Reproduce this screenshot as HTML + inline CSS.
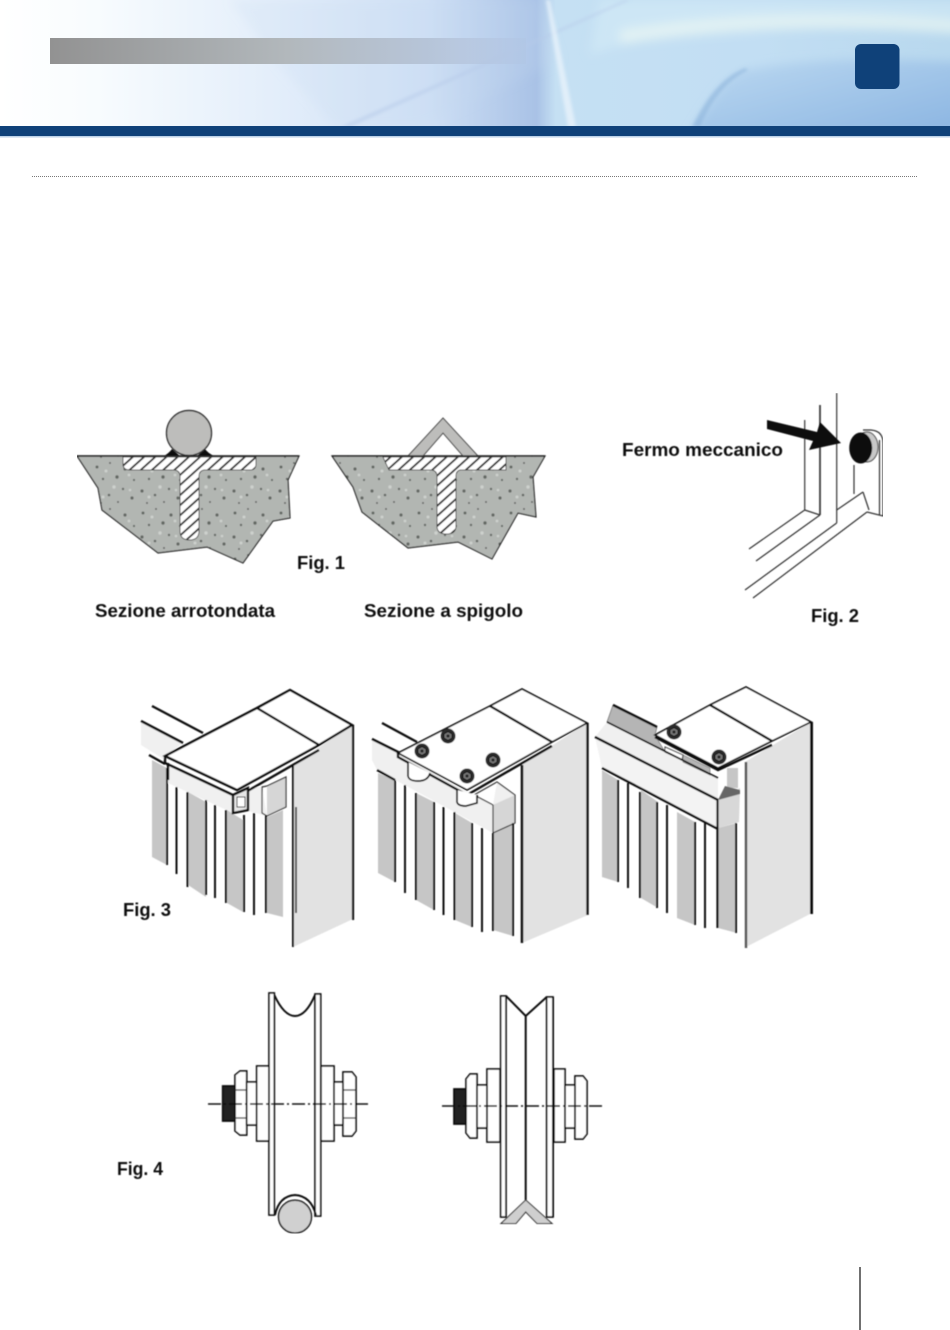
<!DOCTYPE html>
<html lang="it">
<head>
<meta charset="utf-8">
<title>Fig. 1-4</title>
<style>
html,body{margin:0;padding:0;background:#fff;width:950px;height:1330px;overflow:hidden}
svg{display:block}
text{font-family:"Liberation Sans",sans-serif;font-weight:bold;fill:#111;font-size:18px}
.k{fill:none;stroke:#111;stroke-width:2}
.t{fill:none;stroke:#111;stroke-width:2.400}
.s{fill:#c6c6c6;stroke:none}
.b{fill:#f0f0f0;stroke:none}
.w{fill:#fff;stroke:#111;stroke-width:1.700}
.thin{fill:none;stroke:#333;stroke-width:1.200}
</style>
</head>
<body>
<svg width="950" height="1330" viewBox="0 0 950 1330" xmlns="http://www.w3.org/2000/svg">
<defs>
<linearGradient id="h1" x1="0" x2="1" y1="0" y2="0">
<stop offset="0" stop-color="#ffffff"/><stop offset=".1" stop-color="#f8fcfe"/>
<stop offset=".3" stop-color="#e2edfa"/><stop offset=".45" stop-color="#cfe0f5"/>
<stop offset=".565" stop-color="#a9c2e6"/><stop offset=".585" stop-color="#c5e0f3"/>
<stop offset=".8" stop-color="#c2def3"/><stop offset="1" stop-color="#b8d8ee"/>
</linearGradient>
<linearGradient id="h2" x1="0" x2="1" y1="0" y2="1">
<stop offset="0" stop-color="#bcd9f1"/><stop offset="1" stop-color="#8ab4e1"/>
</linearGradient>
<linearGradient id="g1" x1="0" x2="1" y1="0" y2="0">
<stop offset="0" stop-color="#929292"/><stop offset=".5" stop-color="#b2b8bc"/>
<stop offset=".8" stop-color="#b4c2d6" stop-opacity=".9"/><stop offset="1" stop-color="#aebfdc" stop-opacity=".2"/>
</linearGradient>
<pattern id="hatch" width="7.500" height="7.500" patternUnits="userSpaceOnUse" patternTransform="rotate(-42)">
<rect width="7.500" height="7.500" fill="#fff"/><rect width="7.500" height="1.800" fill="#222"/>
</pattern>
<pattern id="conc" width="46" height="46" patternUnits="userSpaceOnUse">
<rect width="46" height="46" fill="#b2b6b2"/>
<g fill="#636864">
<circle cx="5" cy="7" r="1.500"/><circle cx="18" cy="3" r="1"/><circle cx="33" cy="9" r="1.600"/>
<circle cx="42" cy="20" r="1.100"/><circle cx="11" cy="19" r="1.200"/><circle cx="25" cy="17" r="1.700"/>
<circle cx="4" cy="31" r="1.600"/><circle cx="17" cy="35" r="1.300"/><circle cx="31" cy="29" r="1.200"/>
<circle cx="40" cy="38" r="1.600"/><circle cx="26" cy="42" r="1"/><circle cx="9" cy="43" r="1"/>
</g>
<g fill="#cdd1cd"><circle cx="14" cy="11" r="1.500"/><circle cx="37" cy="15" r="1.400"/><circle cx="22" cy="27" r="1.700"/><circle cx="38" cy="30" r="1.300"/><circle cx="11" cy="37" r="1.500"/></g>
</pattern>
<symbol id="bolt" viewBox="-8 -8 16 16" width="16" height="16" overflow="visible">
<circle r="7.500" fill="#2a2a2a"/><path d="M-4-2 0-4.400 4-2V2L0 4.400-4 2Z" fill="#777" stroke="#111" stroke-width="1"/><circle r="1.600" fill="#222"/>
</symbol>
<filter id="soft" x="0" y="0" width="100%" height="100%"><feGaussianBlur stdDeviation=".45"/></filter>
<filter id="hb" x="-5%" y="-20%" width="110%" height="140%"><feGaussianBlur stdDeviation="5"/></filter>
<filter id="hb2" x="-20%" y="-20%" width="140%" height="140%"><feGaussianBlur stdDeviation="1.500"/></filter>
<clipPath id="hc"><rect width="950" height="127"/></clipPath>
</defs>

<!-- header -->
<g clip-path="url(#hc)">
<rect width="950" height="127" fill="url(#h1)"/>
<g filter="url(#hb)">
<path d="M690 135C715 95 725 78 745 70C810 58 880 58 960 62V135Z" fill="url(#h2)"/>
<path d="M600 0H960V22C820 12 680 22 590 55Z" fill="#d3ebf6" opacity=".6"/>
<path d="M620 30C720 12 850 10 960 20V34C830 24 720 30 620 44Z" fill="#eaf6f4" opacity=".7"/>
<path d="M275 60 335 127H420L560 60 540 0H230Z" fill="#c5d8f2" opacity=".2"/>
</g>
<g filter="url(#hb2)">
<path d="M340 127 625 0H630L350 127Z" fill="#b7cbe9" opacity=".55"/>
<path d="M546 0H550L576 127H568Z" fill="#e8f3fb" opacity=".8"/>
<path d="M692 127C708 95 722 78 745 68L748 70C728 80 712 98 700 127Z" fill="#7fa8d4" opacity=".45"/>
</g>
</g>
<rect x="50" y="38" width="476" height="26" fill="url(#g1)"/>
<rect x="855" y="44" width="44.500" height="45" rx="6" fill="#0f4179"/>
<rect y="126" width="950" height="10" fill="#0f4179"/>
<rect y="136" width="950" height="1.500" fill="#bcd2e8"/>
<line x1="32" x2="918" y1="176.500" y2="176.500" stroke="#777" stroke-width="1" stroke-dasharray="1 1"/>
<line x1="860" x2="860" y1="1267" y2="1330" stroke="#222" stroke-width="1.300"/>

<g filter="url(#soft)">
<!-- Fig 1 left -->
<path d="M77 456H299L288 480 290 518 273 521 243 563 207 547 158 553 102 510 98 488Z" fill="url(#conc)" stroke="#222" stroke-width="1.200"/>
<path d="M164 456Q169 453 172 449L180 456Z" fill="#111"/>
<path d="M214 456Q208 453 205 449L197 456Z" fill="#111"/>
<circle cx="189" cy="433" r="22.500" fill="#bdbdbb" stroke="#333" stroke-width="1.400"/>
<line x1="77" x2="299" y1="456" y2="456" stroke="#222" stroke-width="1.500"/>
<path d="M123 457H256V464Q256 470 250 470H204Q199 471 199 476V531Q199 540 189.500 540Q180 540 180 531V476Q180 471 175 470H130Q123 470 123 464Z" fill="url(#hatch)" stroke="#333" stroke-width=".8"/>
<!-- Fig 1 right -->
<path d="M332 456H545L533 477 536 517 518 513 492 559 458 542 408 548 362 512 353 487Z" fill="url(#conc)" stroke="#222" stroke-width="1.200"/>
<path d="M408 456 443 418 478 456H463L443 433 423 456Z" fill="#bdbdbb" stroke="#444" stroke-width="1"/>
<line x1="332" x2="545" y1="456" y2="456" stroke="#222" stroke-width="1.500"/>
<path d="M383 457H506V470H460Q456 471 456 476V526Q456 534 446.500 534Q437 534 437 526V476Q437 471 432 470H389Z" fill="url(#hatch)" stroke="#333" stroke-width=".8"/>

<!-- Fig 2 -->
<g class="thin">
<line x1="836.700" y1="393" x2="836.700" y2="523"/>
<line x1="820" y1="405" x2="820" y2="515" stroke-width="1.700"/>
<line x1="804.700" y1="420" x2="804.700" y2="510"/>
<line x1="804.700" y1="510" x2="749" y2="549"/>
<line x1="804.700" y1="510" x2="820" y2="515"/>
<line x1="820" y1="515" x2="756" y2="561"/>
<line x1="836.700" y1="523" x2="745" y2="590"/>
<line x1="867" y1="512" x2="753" y2="598"/>
<line x1="836.700" y1="510" x2="863" y2="492"/>
<line x1="863" y1="492" x2="869" y2="510"/>
<line x1="854" y1="465" x2="854" y2="494"/>
<path d="M867 512 883 516V443Q883 431 871 430H863"/>
<line x1="879.500" y1="440" x2="879.500" y2="515"/>
</g>
<ellipse cx="867" cy="447" rx="11" ry="15" fill="#c8c8c8" stroke="#444"/>
<ellipse cx="860.700" cy="448" rx="11.500" ry="15.500" fill="#111"/>
<path d="M767 420 767 429 813 441 809 450 841 443 820 422 817 432Z" fill="#111"/>

<!-- Fig 3 panel A -->
<path d="M293 765 352 725 353 919 293 947Z" fill="#e2e2e2"/>
<path class="s" d="M152 760 167 768V865L152 857Z"/>
<path class="s" d="M188 792 206 802V897L188 885Z"/>
<path class="s" d="M227 810 243 820V912L227 903Z"/>
<path class="s" d="M267 817 283 810V917L267 913Z"/>
<path class="b" d="M141 721 183 743 165 756V760L141 745Z"/>
<path class="b" d="M168 763 233 795V813L168 783Z"/>
<path class="b" d="M248 788 262 787 267 816 248 811Z"/>
<path fill="#d6d6d6" d="M267 787 286 777V807L267 816Z"/>
<path class="thin" d="M262 787 267 786 286 777V807L267 816 262 813Z"/>
<g class="t">
<line x1="152" y1="706" x2="203" y2="733"/>
<line x1="141" y1="721" x2="183" y2="743"/>
<line x1="149" y1="755" x2="165" y2="764"/>
<path d="M165 756 257 708 290 690 352 725 319 745 237 790Z" fill="#fff"/>
<line x1="257" y1="708" x2="319" y2="745"/>
<path d="M165 756V763L237 797 319 750"/>
<line x1="168" y1="763" x2="168" y2="780"/>
<path d="M233 795 248 788V810L233 813Z" fill="#e8e8e8"/>
</g>
<rect x="237" y="797" width="8" height="10" fill="#fff" stroke="#222"/>
<g class="k">
<line x1="167" y1="768" x2="167" y2="865"/><line x1="176.500" y1="787" x2="176.500" y2="874"/>
<line x1="187.500" y1="792" x2="187.500" y2="887"/><line x1="206" y1="800" x2="206" y2="895"/>
<line x1="215" y1="805" x2="215" y2="898"/><line x1="226" y1="810" x2="226" y2="903"/>
<line x1="244" y1="815" x2="244" y2="912"/><line x1="254" y1="813" x2="254" y2="915"/>
<line x1="266" y1="815" x2="266" y2="913"/>
<line x1="293" y1="765" x2="293" y2="947"/>
<line x1="353" y1="725" x2="353" y2="920" stroke-width="2.200"/>
<line x1="296" y1="807" x2="296" y2="913" stroke="#555" stroke-width="2"/>
</g>

<!-- Fig 3 panel B -->
<path d="M522 765 587 723 588 915 522 943Z" fill="#e2e2e2"/>
<path class="s" d="M378 773 395 780V882L378 873Z"/>
<path class="s" d="M416 793 434 802V910L416 900Z"/>
<path class="s" d="M455 813 472 823V927L455 920Z"/>
<path class="s" d="M493 830 513 823V936L493 930Z"/>
<path class="b" d="M372 739 398 753 467 792 493 805V833L377 770 372 760Z"/>
<path class="b" d="M493 805 497 782 515 795V800Z"/>
<path fill="#d6d6d6" d="M493 805 515 795V823L493 833Z"/>
<path class="thin" d="M493 805 474 795 497 782 515 795V823L493 833Z"/>
<line x1="493" y1="805" x2="493" y2="833" stroke="#222"/>
<path class="w" stroke-width="2" d="M398 753 490 706 522 689 587 723 552 742 467 790Z"/>
<g class="t">
<line x1="382" y1="723" x2="417" y2="742"/>
<line x1="372" y1="739" x2="400" y2="753"/>
<line x1="490" y1="706" x2="552" y2="742"/>
<path d="M398 753V757L467 795 552 746"/>
<line x1="377" y1="770" x2="395" y2="780"/>
</g>
<path class="w" d="M408 762V776Q409 781 418 781Q428 781 430 773"/>
<path class="w" d="M457 790V802Q458 806 466 806L477 803V795"/>
<use href="#bolt" x="414" y="743"/><use href="#bolt" x="440" y="728"/><use href="#bolt" x="459" y="768"/><use href="#bolt" x="485" y="752"/>
<g class="k">
<line x1="395" y1="780" x2="395" y2="882"/><line x1="405" y1="785" x2="405" y2="893"/>
<line x1="416" y1="793" x2="416" y2="900"/><line x1="434" y1="802" x2="434" y2="910"/>
<line x1="443.500" y1="807" x2="443.500" y2="915"/><line x1="454.500" y1="812" x2="454.500" y2="920"/>
<line x1="472" y1="823" x2="472" y2="927"/><line x1="482" y1="828" x2="482" y2="932"/>
<line x1="493" y1="833" x2="493" y2="931"/><line x1="513" y1="823" x2="513" y2="936"/>
<line x1="522" y1="765" x2="522" y2="943" stroke-width="2.600"/><line x1="587.500" y1="723" x2="587.500" y2="915" stroke-width="2.400"/>
</g>

<!-- Fig 3 panel C -->
<path d="M745 762 811 722 812 913 746 947Z" fill="#e2e2e2"/>
<path class="s" d="M602 770 618 780V882L602 877Z"/>
<path class="s" d="M641 790 658 802V908L641 898Z"/>
<path class="s" d="M677 812 695 822V925L677 918Z"/>
<path class="s" d="M718 828 737 823V933L718 928Z"/>
<path fill="#c6c6c6" d="M727 768 738 768V788H727Z"/>
<path fill="#b5b5b5" stroke="#555" stroke-width=".6" d="M613 705 657 727 655 735 665 752 607 722Z"/>
<path class="b" d="M607 722 665 752 718 778V802L595 737Z"/>
<path fill="#f3f3f3" d="M595 737 718 800V828L602 768Z"/>
<path fill="#d8d8d8" d="M718 800 740 788 739 822 718 828Z"/>
<path fill="#666" d="M718 800 725 786 740 790V794Z"/>
<path fill="#b5b5b5" stroke="#666" stroke-width=".6" d="M683 755 710 768V775L683 762Z"/>
<path fill="#fff" stroke="#333" d="M665 747 683 755 682 760 665 752Z"/>
<path class="w" stroke-width="2" d="M655 735 710 705 746 687 811 722 772 741 718 768Z"/>
<g class="t">
<line x1="710" y1="705" x2="772" y2="741"/>
<line x1="607" y1="722" x2="718" y2="778" stroke-width="1.800"/>
<line x1="595" y1="737" x2="718" y2="800"/>
<line x1="602" y1="768" x2="718" y2="829"/>
<path d="M655 737 718 770 772 745"/>
<line x1="613" y1="705" x2="657" y2="727"/>
</g>
<use href="#bolt" x="666" y="724"/><use href="#bolt" x="711" y="749"/>
<g class="k">
<line x1="618" y1="780" x2="618" y2="882"/><line x1="628" y1="783" x2="628" y2="888"/>
<line x1="640" y1="792" x2="640" y2="898"/><line x1="657" y1="802" x2="657" y2="908"/>
<line x1="667" y1="805" x2="667" y2="913"/><line x1="695" y1="822" x2="695" y2="925"/>
<line x1="705" y1="823" x2="705" y2="928"/><line x1="717.500" y1="800" x2="717.500" y2="928" stroke-width="2.200"/>
<line x1="736" y1="823" x2="736" y2="933"/>
<line x1="746" y1="762" x2="746" y2="948" stroke="#555" stroke-width="2.400"/>
<line x1="811.500" y1="722" x2="811.500" y2="914" stroke-width="3"/>
</g>

<!-- Fig 4 wheel 1 -->
<g class="w">
<path d="M222.700 1086H235V1121H222.700Z" fill="#222"/>
<path d="M235 1075 240 1071H246.700V1135H240L235 1131Z"/>
<rect x="246.700" y="1082" width="10" height="43"/>
<rect x="256.700" y="1066" width="12.300" height="75"/>
<rect x="269" y="993" width="5.300" height="222"/>
<rect x="315" y="994" width="5.700" height="222"/>
<rect x="321" y="1066" width="13" height="75"/>
<rect x="334" y="1082" width="9" height="43"/>
<path d="M343 1072H352L356 1077V1131L352 1136H343Z"/>
</g>
<path class="k" stroke-width="1.700" d="M274.300 995Q284 1016 295 1016Q306 1016 315 995"/>
<path class="k" stroke-width="1.500" d="M275 1215Q279 1196 295 1195Q311 1196 316 1215"/>
<circle cx="295" cy="1216.700" r="16.500" fill="#d0d0d0" stroke="#222" stroke-width="1.600"/>
<path class="thin" d="M235 1090H246.700M235 1118H246.700M343 1090H356M343 1118H356"/>
<line x1="208" x2="370" y1="1104" y2="1104" stroke="#111" stroke-width="1.500" stroke-dasharray="13 3 2 3"/>

<!-- Fig 4 wheel 2 -->
<g class="w">
<path d="M454 1089H467V1124H454Z" fill="#222"/>
<path d="M466 1079 470 1074H477V1138H470L466 1133Z"/>
<rect x="477" y="1085" width="10" height="43"/>
<rect x="487" y="1069" width="13" height="73"/>
<rect x="500.700" y="996" width="5.300" height="221"/>
<rect x="546.700" y="997" width="6.300" height="220"/>
<rect x="554" y="1069" width="11" height="73"/>
<rect x="565" y="1085" width="10" height="43"/>
<path d="M575 1076H583L587 1081V1134L583 1139H575Z"/>
</g>
<line x1="553" y1="997" x2="553" y2="1217" stroke="#111" stroke-width="2"/>
<path class="k" stroke-width="1.700" d="M506 996 525.700 1016 546.700 997M525.700 1016V1200"/>
<path d="M525.700 1200 501 1223.500H516L525.700 1212 537 1223.500H552Z" fill="#cfcfcf" stroke="#333" stroke-width="1.100"/>
<line x1="442" x2="603" y1="1106" y2="1106" stroke="#111" stroke-width="1.500" stroke-dasharray="13 3 2 3"/>

<!-- labels -->
<text x="297" y="569" textLength="48" lengthAdjust="spacingAndGlyphs">Fig. 1</text>
<text x="95" y="617" textLength="180" lengthAdjust="spacingAndGlyphs">Sezione arrotondata</text>
<text x="364" y="617" textLength="159" lengthAdjust="spacingAndGlyphs">Sezione a spigolo</text>
<text x="622" y="456" textLength="161" lengthAdjust="spacingAndGlyphs">Fermo meccanico</text>
<text x="811" y="622" textLength="48" lengthAdjust="spacingAndGlyphs">Fig. 2</text>
<text x="123" y="916" textLength="48" lengthAdjust="spacingAndGlyphs">Fig. 3</text>
<text x="117" y="1175" textLength="46" lengthAdjust="spacingAndGlyphs">Fig. 4</text>
</g>
</svg>
</body>
</html>
